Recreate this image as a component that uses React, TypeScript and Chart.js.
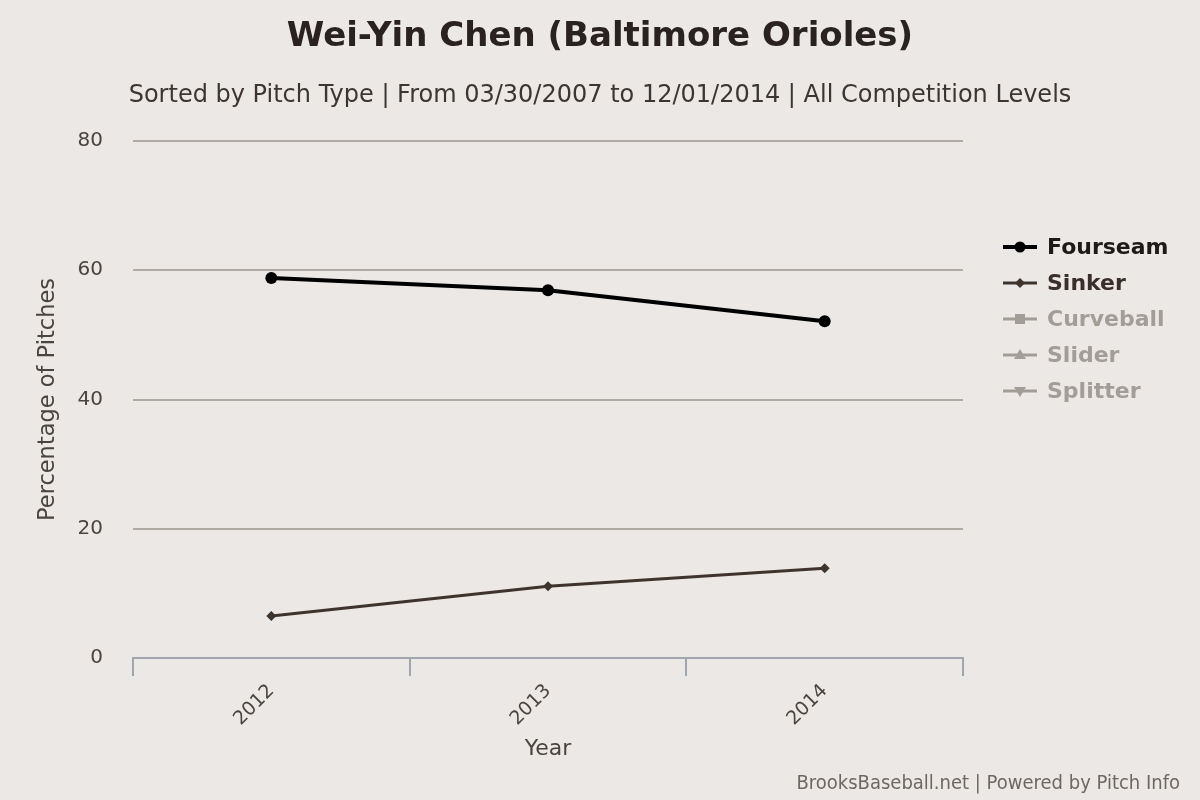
import React, { useEffect, useRef } from 'react';
import { Chart, registerables } from 'chart.js';

Chart.register(...registerables);

const years = ['2012', '2013', '2014'];
const seriesNames = ['Fourseam', 'Sinker', 'Curveball', 'Slider', 'Splitter'];
const fourseam = [58.8, 56.9, 52.1];
const sinker = [6.5, 11.1, 13.9];
const curveball: number[] = [];
const slider: number[] = [];
const splitter: number[] = [];
const yTicks = [0, 20, 40, 60, 80];

const FONT = '"DejaVu Sans", sans-serif';
const BG = '#ebe8e5';
const HIDDEN = '#a39d98';

const pageText = {
  id: 'pageText',
  beforeDraw(chart: any) {
    const { ctx, width, height } = chart;
    ctx.save();
    ctx.fillStyle = BG;
    ctx.fillRect(0, 0, width, height);
    ctx.restore();
  },
  afterDraw(chart: any) {
    const { ctx, chartArea } = chart;
    ctx.save();
    ctx.textAlign = 'center';
    ctx.textBaseline = 'middle';
    ctx.fillStyle = '#2a2220';
    ctx.font = `bold 34px ${FONT}`;
    ctx.fillText('Wei-Yin Chen (Baltimore Orioles)', 600, 37);
    ctx.fillStyle = '#3d3530';
    ctx.font = `24px ${FONT}`;
    ctx.fillText('Sorted by Pitch Type | From 03/30/2007 to 12/01/2014 | All Competition Levels', 600, 96);

    ctx.textAlign = 'right';
    ctx.fillStyle = '#6e6864';
    ctx.font = `20px "DejaVu Sans Condensed", ${FONT}`;
    ctx.fillText('BrooksBaseball.net | Powered by Pitch Info', 1180, 784);

    // legend
    const x0 = chartArea.right + 40;
    chart.data.datasets.forEach((ds: any, i: number) => {
      const y = 247 + i * 36;
      const hidden = ds.hidden;
      const col = hidden ? HIDDEN : ds.borderColor;
      ctx.strokeStyle = col;
      ctx.fillStyle = col;
      ctx.lineWidth = i === 0 ? 4 : 3;
      ctx.beginPath();
      ctx.moveTo(x0, y);
      ctx.lineTo(x0 + 34, y);
      ctx.stroke();
      const cx = x0 + 17;
      ctx.beginPath();
      if (ds.pointStyle === 'circle') {
        ctx.arc(cx, y, 5.5, 0, Math.PI * 2);
      } else if (ds.pointStyle === 'rectRot') {
        ctx.moveTo(cx, y - 5); ctx.lineTo(cx + 5, y); ctx.lineTo(cx, y + 5); ctx.lineTo(cx - 5, y);
      } else if (ds.pointStyle === 'rect') {
        ctx.rect(cx - 5, y - 5, 10, 10);
      } else if (ds.pointStyle === 'triangle') {
        ctx.moveTo(cx, y - 6); ctx.lineTo(cx + 6, y + 4); ctx.lineTo(cx - 6, y + 4);
      } else {
        ctx.moveTo(cx, y + 6); ctx.lineTo(cx + 6, y - 4); ctx.lineTo(cx - 6, y - 4);
      }
      ctx.closePath();
      ctx.fill();
      ctx.textAlign = 'left';
      ctx.fillStyle = hidden ? HIDDEN : (i === 0 ? '#1e1a18' : '#3a2e2a');
      ctx.font = `bold 22px ${FONT}`;
      ctx.fillText(ds.label, x0 + 44, y + 1);
    });
    ctx.restore();
  },
};

export default function App() {
  const chartRef = useRef<HTMLCanvasElement>(null);
  const chartInstance = useRef<Chart | null>(null);

  useEffect(() => {
    document.body.style.margin = '0';
    if (!chartRef.current) return;
    const ctx = chartRef.current.getContext('2d');
    if (!ctx) return;
    if (chartInstance.current) chartInstance.current.destroy();

    const values = [fourseam, sinker, curveball, slider, splitter];
    const colors = ['#000000', '#3f332e', HIDDEN, HIDDEN, HIDDEN];
    const styles = ['circle', 'rectRot', 'rect', 'triangle', 'triangleDown'];

    chartInstance.current = new Chart(ctx, {
      type: 'line',
      data: {
        labels: years,
        datasets: seriesNames.map((name, i) => ({
          label: name,
          data: values[i],
          hidden: i > 1,
          borderColor: colors[i],
          backgroundColor: colors[i],
          borderWidth: i === 0 ? 4 : 3,
          pointStyle: styles[i] as any,
          pointRadius: i === 0 ? 6 : 5,
          pointBorderWidth: 0,
          tension: 0,
        })),
      },
      plugins: [pageText],
      options: {
        responsive: false,
        animation: false,
        layout: { padding: { left: 35, right: 237, top: 141, bottom: 38 } },
        plugins: {
          legend: { display: false },
          tooltip: { enabled: false },
        },
        scales: {
          x: {
            offset: true,
            grid: {
              offset: true,
              drawOnChartArea: false,
              drawTicks: true,
              tickLength: 18,
              color: '#a0a6ad',
              lineWidth: 2,
            },
            border: { color: '#a0a6ad', width: 2 },
            ticks: {
              color: '#4a4440',
              font: { family: FONT, size: 19 },
              minRotation: 45,
              maxRotation: 45,
              padding: 4,
            },
            title: {
              display: true,
              text: 'Year',
              color: '#4a4440',
              font: { family: FONT, size: 22 },
              padding: { top: 2, bottom: 0 },
            },
            afterFit: (scale: any) => {
              scale.height = 800 - 658 - 38;
            },
          },
          y: {
            min: 0,
            max: 80,
            afterBuildTicks: (scale: any) => {
              scale.ticks = yTicks.map((v) => ({ value: v }));
            },
            grid: {
              drawTicks: false,
              color: (c: any) => (c.tick && c.tick.value === 0 ? 'rgba(0,0,0,0)' : '#b0aaa4'),
              lineWidth: 2,
            },
            border: { display: false },
            ticks: {
              color: '#4a4440',
              font: { family: FONT, size: 20 },
              padding: 30,
            },
            title: {
              display: true,
              text: 'Percentage of Pitches',
              color: '#4a4440',
              font: { family: FONT, size: 22.5 },
              padding: 0,
            },
            afterFit: (scale: any) => {
              scale.width = 133 - 35;
            },
          },
        },
      },
    });

    return () => {
      if (chartInstance.current) {
        chartInstance.current.destroy();
        chartInstance.current = null;
      }
    };
  }, []);

  return (
    <div style={{ width: 1200, height: 800, background: BG }}>
      <canvas ref={chartRef} width={1200} height={800} style={{ display: 'block' }}></canvas>
    </div>
  );
}
